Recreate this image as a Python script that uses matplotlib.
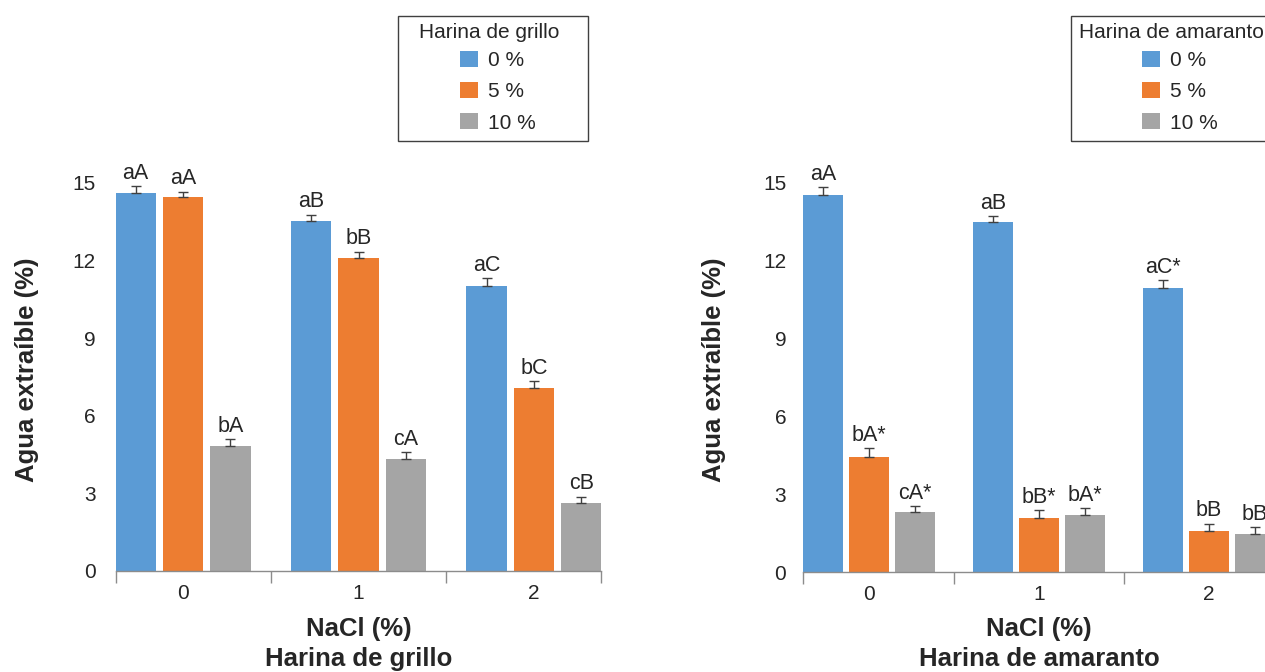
import numpy as np
import matplotlib
matplotlib.use("Agg")
import matplotlib.pyplot as plt
from matplotlib.patches import Rectangle, Patch

plt.rcParams['font.family'] = ['Liberation Sans', 'DejaVu Sans']

# ---- data ----
nacl = ['0', '1', '2']
levels = ['0 %', '5 %', '10 %']
colors = ['#5B9BD5', '#ED7D31', '#A5A5A5']

grillo_0 = [14.6, 13.55, 11.02]
grillo_5 = [14.47, 12.1, 7.07]
grillo_10 = [4.83, 4.33, 2.63]
grillo_err_0 = [0.3, 0.23, 0.3]
grillo_err_5 = [0.2, 0.25, 0.28]
grillo_err_10 = [0.26, 0.28, 0.25]
grillo_lab_0 = ['aA', 'aB', 'aC']
grillo_lab_5 = ['aA', 'bB', 'bC']
grillo_lab_10 = ['bA', 'cA', 'cB']

amaranto_0 = [14.55, 13.5, 10.95]
amaranto_5 = [4.45, 2.1, 1.6]
amaranto_10 = [2.3, 2.2, 1.48]
amaranto_err_0 = [0.28, 0.23, 0.3]
amaranto_err_5 = [0.33, 0.28, 0.27]
amaranto_err_10 = [0.25, 0.28, 0.26]
amaranto_lab_0 = ['aA', 'aB', 'aC*']
amaranto_lab_5 = ['bA*', 'bB*', 'bB']
amaranto_lab_10 = ['cA*', 'bA*', 'bB']

yticks = [0, 3, 6, 9, 12, 15]

TXT = '#262626'
W, H = 1265, 672
fig = plt.figure(figsize=(W / 100, H / 100), dpi=100)


def px_axes(x0, x1, y_top, y_bot):
    return fig.add_axes([x0 / W, 1 - y_bot / H, (x1 - x0) / W, (y_bot - y_top) / H])


def draw_panel(ax, series, errs, labels, xpad, ypad):
    x = np.arange(len(nacl))
    offset, width = 0.27, 0.232
    for i, (vals, err, labs) in enumerate(zip(series, errs, labels)):
        xs = x + (i - 1) * offset
        ax.bar(xs, vals, width=width, color=colors[i], label=levels[i], zorder=2)
        ax.errorbar(xs, vals, yerr=[np.zeros(len(err)), err], fmt='none',
                    ecolor='#404040', elinewidth=1.0, capsize=3.3, capthick=1.0, zorder=3)
        for xi, v, e, t in zip(xs, vals, err, labs):
            ax.annotate(t, (xi, v + e), xytext=(0, 1.5), textcoords='offset points',
                        ha='center', va='bottom', fontsize=15.5, color=TXT, clip_on=False)
    ax.set_ylim(0, 15)
    ax.set_xlim(-xpad, 2 + xpad)
    ax.set_yticks(yticks)
    ax.tick_params(axis='y', length=0, pad=ypad, labelsize=15, labelcolor=TXT)
    # category separators on the x axis
    ax.set_xticks([-xpad, 0.5, 1.5, 2 + xpad])
    ax.set_xticklabels([])
    ax.tick_params(axis='x', which='major', length=8.6, width=1.0, color='#8c8c8c', direction='out')
    ax.set_xticks(x, minor=True)
    ax.set_xticklabels(nacl, minor=True)
    ax.tick_params(axis='x', which='minor', length=0, pad=9.5, labelsize=15, labelcolor=TXT)
    for s in ['left', 'top', 'right']:
        ax.spines[s].set_visible(False)
    ax.spines['bottom'].set_color('#8c8c8c')
    ax.spines['bottom'].set_linewidth(1.0)
    ax.spines['bottom'].set_zorder(4)


ax1 = px_axes(116, 601, 183, 571)
draw_panel(ax1, [grillo_0, grillo_5, grillo_10],
           [grillo_err_0, grillo_err_5, grillo_err_10],
           [grillo_lab_0, grillo_lab_5, grillo_lab_10], 0.382, 14.5)

ax2 = px_axes(803, 1275, 183, 572)
draw_panel(ax2, [amaranto_0, amaranto_5, amaranto_10],
           [amaranto_err_0, amaranto_err_5, amaranto_err_10],
           [amaranto_lab_0, amaranto_lab_5, amaranto_lab_10], 0.388, 12)

# axis titles
lab_kw = dict(fontsize=18.5, fontweight='bold', color=TXT, ha='center', va='center')
fig.text(27 / W, 1 - 370 / H, 'Agua extraíble (%)', rotation=90, **lab_kw)
fig.text(714 / W, 1 - 370 / H, 'Agua extraíble (%)', rotation=90, **lab_kw)
fig.text(358.5 / W, 1 - 629 / H, 'NaCl (%)', **lab_kw)
fig.text(358.5 / W, 1 - 659 / H, 'Harina de grillo', **lab_kw)
fig.text(1039 / W, 1 - 629 / H, 'NaCl (%)', **lab_kw)
fig.text(1039 / W, 1 - 659 / H, 'Harina de amaranto', **lab_kw)

# legends: entries centred a little right of the boxed title
handles = [Patch(facecolor=c, edgecolor='none') for c in colors]
for ax, title, cx, box in [(ax1, 'Harina de grillo', 489, (398, 16, 588, 141)),
                           (ax2, 'Harina de amaranto', 1171, (1071, 16, 1300, 141))]:
    leg = ax.legend(handles, levels, loc='upper center',
                    bbox_to_anchor=((cx + 9) / W, 1 - 51 / H), bbox_transform=fig.transFigure,
                    frameon=False, fontsize=15,
                    handlelength=0.87, handleheight=0.83, handletextpad=0.5,
                    labelspacing=0.56, borderpad=0.0, borderaxespad=0)
    for t in leg.get_texts():
        t.set_color(TXT)
    fig.text(cx / W, 1 - 32 / H, title, fontsize=15, color=TXT, ha='center', va='center')
    x0, y0, x1, y1 = box
    fig.patches.append(Rectangle((x0 / W, 1 - y1 / H), (x1 - x0) / W, (y1 - y0) / H,
                                 transform=fig.transFigure, fill=False,
                                 edgecolor='#404040', linewidth=1.0))

fig.savefig('out.png', dpi=100)
